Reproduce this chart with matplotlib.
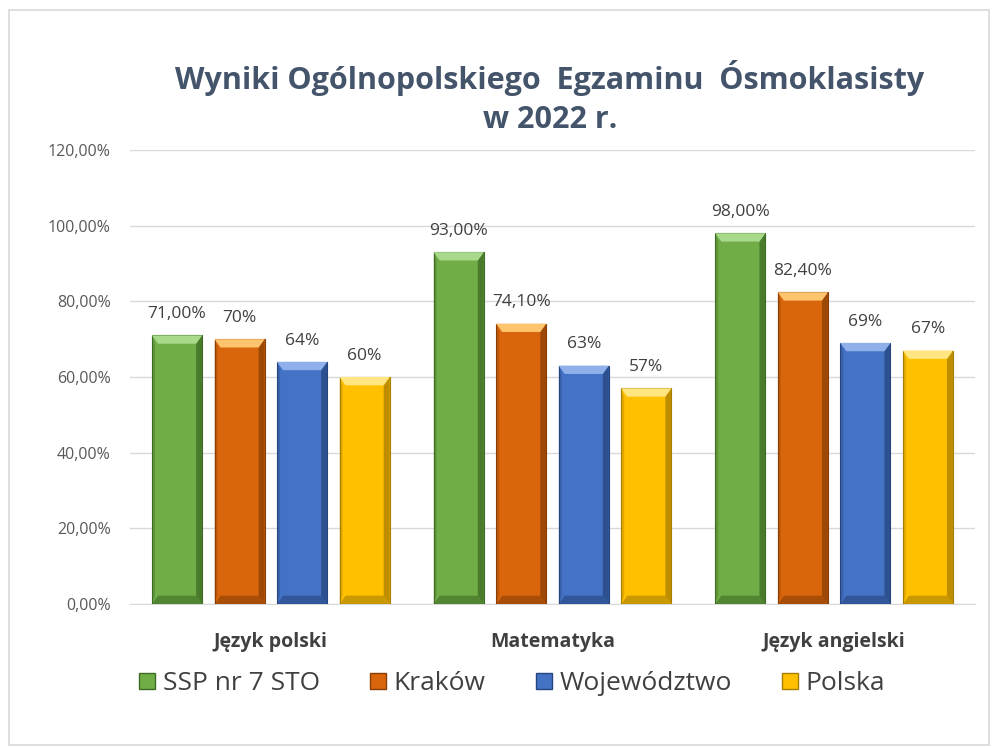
import matplotlib
matplotlib.use("Agg")
import matplotlib.pyplot as plt
from matplotlib.patches import Rectangle, Polygon
from matplotlib.lines import Line2D
import numpy as np

categories = ["Język polski", "Matematyka", "Język angielski"]
series_names = ["SSP nr 7 STO", "Kraków", "Województwo", "Polska"]
ssp = [71.0, 93.0, 98.0]
krakow = [70.0, 74.1, 82.4]
wojewodztwo = [64.0, 63.0, 69.0]
polska = [60.0, 57.0, 67.0]
labels_ssp = ["71,00%", "93,00%", "98,00%"]
labels_krakow = ["70%", "74,10%", "82,40%"]
labels_woj = ["64%", "63%", "69%"]
labels_pol = ["60%", "57%", "67%"]
yticks = [0, 20, 40, 60, 80, 100, 120]
ytick_labels = ["0,00%", "20,00%", "40,00%", "60,00%", "80,00%", "100,00%", "120,00%"]

series = [ssp, krakow, wojewodztwo, polska]
series_labels = [labels_ssp, labels_krakow, labels_woj, labels_pol]
colors = ["#70AD47", "#D9660C", "#4472C4", "#FFC000"]
dark = ["#3E6B24", "#8A3E05", "#25457F", "#A87E00"]
light = ["#A9D98A", "#FFC46E", "#8FB0EA", "#FFE680"]

plt.rcParams['font.family'] = ['Open Sans', 'DejaVu Sans']
fig = plt.figure(figsize=(9.95, 7.47), dpi=100)
ax = fig.add_axes([130/995, 1-604/747, 845/995, 454/747])

# frame
fig.patches.append(Rectangle((9/995, 1-745/747), 980/995, 735/747, transform=fig.transFigure,
                             fill=False, edgecolor="#D9D9D9", linewidth=1.2))

x = np.arange(len(categories))
width = 0.178
step = 0.222
for i, (vals, labs) in enumerate(zip(series, series_labels)):
    off = (i - 1.5) * step
    bars = ax.bar(x + off, vals, width, color=colors[i], edgecolor=dark[i], linewidth=0.8, zorder=3)
    for b, lab in zip(bars, labs):
        x0, w, h = b.get_x(), b.get_width(), b.get_height()
        bw = w * 0.12
        bh = 2.2
        ax.add_patch(Polygon([[x0, 0], [x0 + bw * 0.5, bh], [x0 + bw * 0.5, h - bh], [x0, h]], closed=True,
                             facecolor=dark[i], edgecolor='none', alpha=0.35, zorder=4))
        ax.add_patch(Polygon([[x0 + w, 0], [x0 + w - bw, bh], [x0 + w - bw, h - bh], [x0 + w, h]], closed=True,
                             facecolor=dark[i], edgecolor='none', alpha=0.75, zorder=4))
        ax.add_patch(Polygon([[x0, h], [x0 + bw, h - bh], [x0 + w - bw, h - bh], [x0 + w, h]], closed=True,
                             facecolor=light[i], edgecolor='none', zorder=4))
        ax.add_patch(Polygon([[x0, 0], [x0 + bw, bh], [x0 + w - bw, bh], [x0 + w, 0]], closed=True,
                             facecolor=dark[i], edgecolor='none', alpha=0.6, zorder=4))
        ax.text(b.get_x() + w / 2, h + 3.5, lab, ha='center', va='bottom', fontsize=12.5,
                color="#404040", zorder=5)

ax.set_xlim(-0.5, 2.5)
ax.set_ylim(0, 120)
ax.set_yticks(yticks)
ax.set_yticklabels(ytick_labels, fontsize=11.5, color="#595959")
ax.set_xticks(x)
ax.set_xticklabels(categories, fontsize=14, fontweight='bold', color="#404040")
ax.tick_params(axis='both', length=0)
ax.tick_params(axis='y', pad=14)
ax.tick_params(axis='x', pad=20)
ax.grid(axis='y', color="#D9D9D9", linewidth=1, zorder=0)
for s in ["top", "right", "left"]:
    ax.spines[s].set_visible(False)
ax.spines["bottom"].set_color("#D9D9D9")

fig.text(550/995, 1-78/747, "Wyniki Ogólnopolskiego  Egzaminu  Ósmoklasisty", ha='center', va='center',
         fontsize=22, fontweight='bold', color="#44546A")
fig.text(550/995, 1-120/747, "w 2022 r.", ha='center', va='center',
         fontsize=22, fontweight='bold', color="#44546A")

handles = [Line2D([0], [0], marker='s', linestyle='none', markersize=11, markerfacecolor=c,
                  markeredgecolor=d) for c, d in zip(colors, dark)]
fig.legend(handles, series_names, loc='center', bbox_to_anchor=(512/995, 1-684/747), ncol=4,
           frameon=False, fontsize=19, labelcolor="#404040", handlelength=0.6, handletextpad=0.3,
           columnspacing=1.9)

fig.savefig("out.png", dpi=100)
